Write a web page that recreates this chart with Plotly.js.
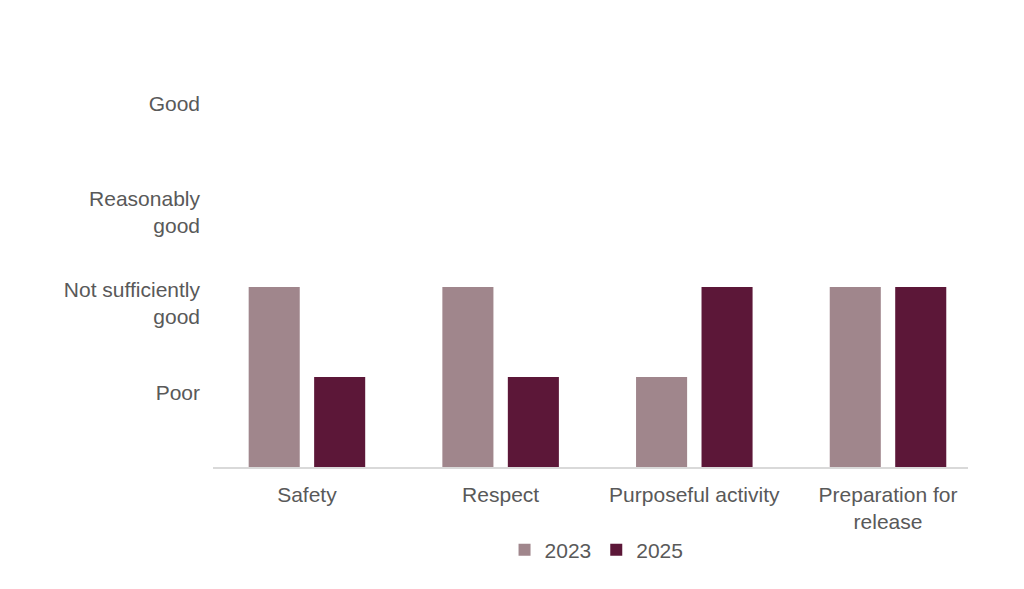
<!DOCTYPE html>
<html>
<head>
<meta charset="utf-8">
<script src="https://cdn.plot.ly/plotly-3.0.1.min.js"></script>
<style>
  html, body { margin: 0; padding: 0; background: #ffffff; }
  #chart { width: 1024px; height: 589px; }
</style>
</head>
<body>
<div id="chart"></div>
<script>
// Inspection areas and their judgements (1 = Poor ... 4 = Good)
const areas = ["Safety", "Respect", "Purposeful activity", "Preparation for<br>release"];
const scores2023 = [2, 2, 1, 2];
const scores2025 = [1, 1, 2, 2];
const ratingLabels = ["Poor", "Not sufficiently<br>good", "Reasonably<br>good", "Good"];

const textGrey = "#595959";
const fontFamily = "Arial, 'Liberation Sans', sans-serif";

const traces = [
  { type: "bar", name: "2023", x: areas, y: scores2023, marker: { color: "#a0868c" }, hoverinfo: "x+y" },
  { type: "bar", name: "2025", x: areas, y: scores2025, marker: { color: "#5c1738" }, hoverinfo: "x+y" }
];

const layout = {
  width: 1024,
  height: 589,
  margin: { l: 213, r: 56, t: 62, b: 122, autoexpand: false },
  paper_bgcolor: "#ffffff",
  plot_bgcolor: "#ffffff",
  font: { family: fontFamily, size: 21, color: textGrey },
  barmode: "group",
  bargap: 0.324,
  bargroupgap: 0.22,
  showlegend: true,
  legend: {
    orientation: "h",
    x: 0.508, xanchor: "center",
    y: -0.205, yanchor: "middle",
    font: { size: 21, color: textGrey },
    itemwidth: 30,
    traceorder: "normal"
  },
  xaxis: {
    automargin: false,
    range: [-0.485, 3.413],
    showgrid: false,
    zeroline: false,
    showline: true,
    linecolor: "#d9d9d9",
    linewidth: 1.5,
    ticks: "",
    tickfont: { size: 21, color: textGrey },
    ticklabelstandoff: 8,
    fixedrange: true
  },
  yaxis: {
    automargin: false,
    range: [0, 4.5],
    showgrid: false,
    zeroline: false,
    showline: false,
    ticks: "",
    tickmode: "array",
    tickvals: [0.83, 1.82, 2.83, 4.04],
    ticktext: ratingLabels,
    tickfont: { size: 21, color: textGrey },
    ticklabelstandoff: 12,
    fixedrange: true
  }
};

Plotly.newPlot("chart", traces, layout, { displayModeBar: false, staticPlot: true });
</script>
</body>
</html>
